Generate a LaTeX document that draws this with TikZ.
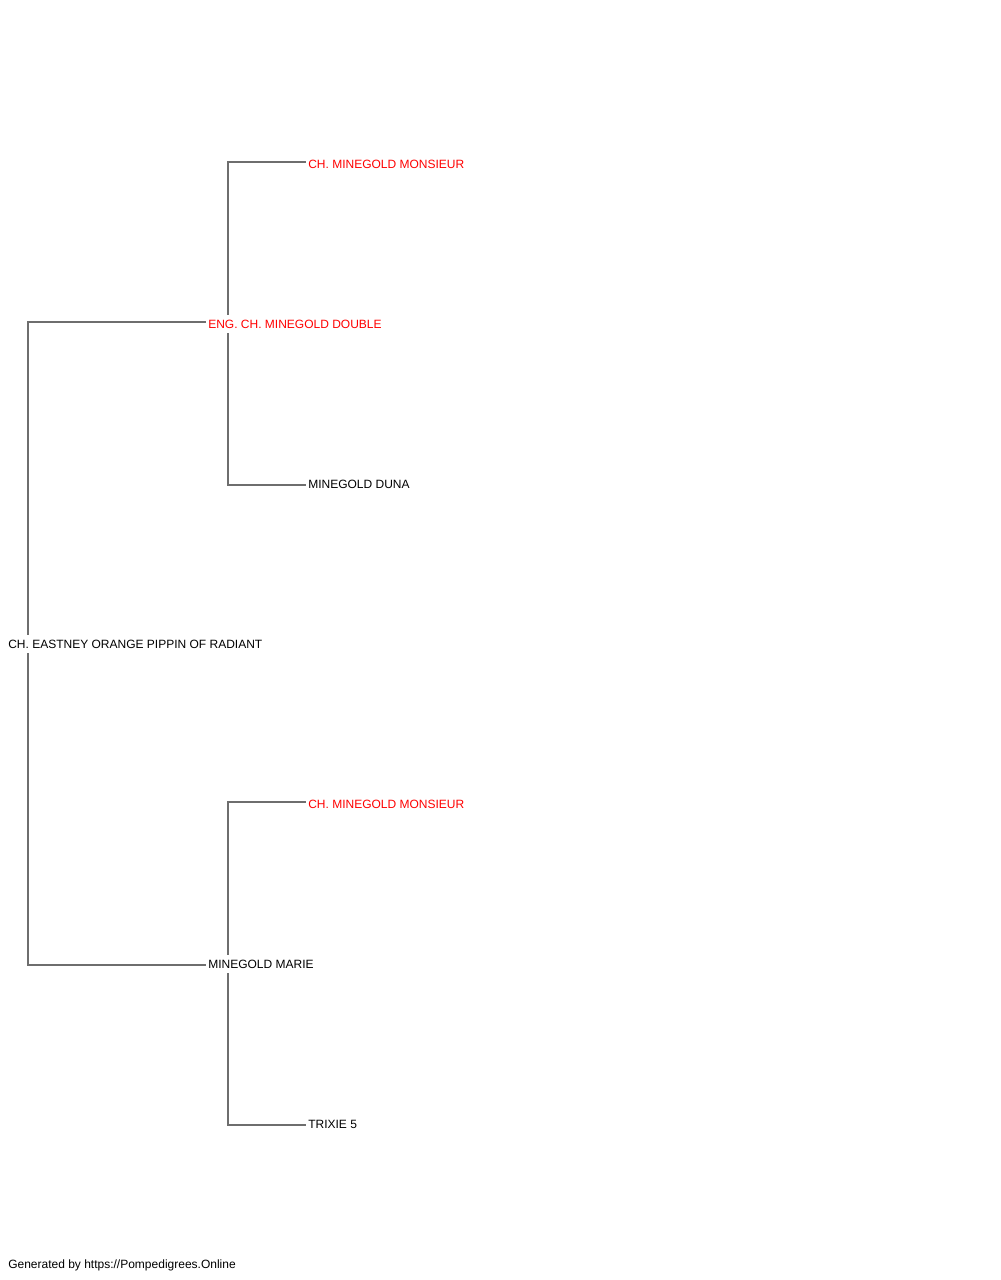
\documentclass[tikz,border=0pt]{standalone}
\usepackage{fontspec}
\setmainfont{Liberation Sans}
\usetikzlibrary{backgrounds}
\definecolor{linegray}{HTML}{6E6E6E}
\definecolor{namered}{HTML}{FF0000}
\tikzset{
  px/.style={x=0.75pt,y=-0.75pt},
  pname/.style={anchor=west,fill=white,inner xsep=1.5pt,inner ysep=0pt,minimum height=13.5pt,font=\fontsize{9pt}{10pt}\selectfont,text=black},
  champ/.style={pname,text=namered},
  conn/.style={draw=linegray,line width=0.95pt},
}
\begin{document}
\begin{tikzpicture}[px]
\useasboundingbox (0,0) rectangle (1000,1280);
\node[pname] (root) at (6,644) {CH. EASTNEY ORANGE PIPPIN OF RADIANT};
\node[champ] (sire) at (206,324) {ENG. CH. MINEGOLD DOUBLE};
\node[pname] (dam) at (206,964) {MINEGOLD MARIE};
\node[champ] (ss) at (306,164) {CH. MINEGOLD MONSIEUR};
\node[pname] (sd) at (306,484) {MINEGOLD DUNA};
\node[champ] (ds) at (306,804) {CH. MINEGOLD MONSIEUR};
\node[pname] (dd) at (306,1124) {TRIXIE 5};
\node[anchor=west,inner sep=0pt,font=\fontsize{9pt}{10pt}\selectfont] (foot) at (8,1265) {Generated by https://Pompedigrees.Online};
\coordinate (x0) at (28,0);
\coordinate (x1) at (228,0);
\begin{scope}[on background layer]
\draw[conn] ([yshift=1.5pt]sire.west) -- ([yshift=1.5pt]sire.west -| x0) -- ([yshift=-0.75pt]dam.west -| x0) -- ([yshift=-0.75pt]dam.west);
\draw[conn] ([yshift=1.5pt]ss.west) -- ([yshift=1.5pt]ss.west -| x1) -- ([yshift=-0.75pt]sd.west -| x1) -- ([yshift=-0.75pt]sd.west);
\draw[conn] ([yshift=1.5pt]ds.west) -- ([yshift=1.5pt]ds.west -| x1) -- ([yshift=-0.75pt]dd.west -| x1) -- ([yshift=-0.75pt]dd.west);
\end{scope}
\end{tikzpicture}
\end{document}
